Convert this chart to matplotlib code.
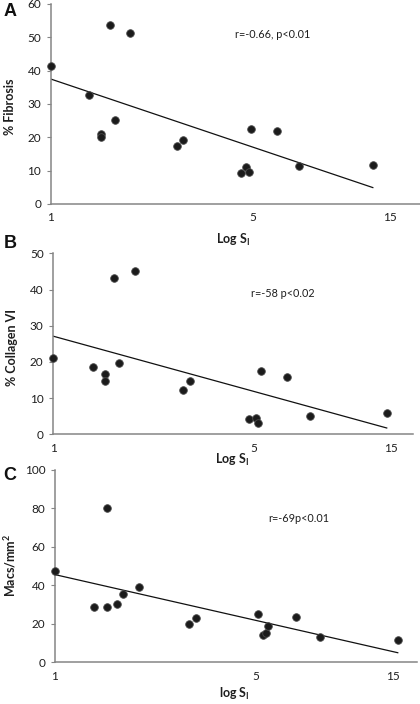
import numpy as np
import matplotlib
matplotlib.use("Agg")
import matplotlib.pyplot as plt

plt.rcParams['font.family'] = ['Lato', 'DejaVu Sans']
plt.rcParams['mathtext.fontset'] = 'custom'
plt.rcParams['mathtext.rm'] = 'Lato:bold'
plt.rcParams['mathtext.it'] = 'Lato:bold'
plt.rcParams['mathtext.bf'] = 'Lato:bold'
plt.rcParams['mathtext.default'] = 'rm'

# ---- data ----
si_a = [1.00, 1.60, 1.88, 1.355, 1.49, 1.49, 1.67, 2.74, 2.88, 4.56, 4.77, 4.87, 4.94, 6.08, 7.25, 13.1]
fibrosis = [41.3, 53.6, 51.3, 32.6, 21.0, 20.0, 25.2, 17.5, 19.1, 9.2, 11.1, 9.7, 22.5, 22.0, 11.5, 11.8]

si_b = [1.00, 1.37, 1.51, 1.51, 1.63, 1.70, 1.92, 2.83, 3.00, 4.82, 5.07, 5.18, 5.27, 6.54, 7.84, 14.5]
collagen = [21.0, 18.7, 16.6, 14.8, 43.2, 19.8, 45.1, 12.2, 14.8, 4.2, 4.5, 3.1, 17.5, 15.7, 5.1, 6.0]

si_c = [1.00, 1.37, 1.52, 1.52, 1.64, 1.72, 1.96, 2.93, 3.10, 5.07, 5.30, 5.43, 5.50, 6.89, 8.34, 15.6]
macs = [47.7, 28.8, 28.8, 80.1, 30.2, 35.7, 39.2, 20.1, 23.2, 25.0, 14.2, 15.1, 18.7, 23.7, 13.3, 11.4]

x_ticks = [1, 5, 15]
x_tick_labels = ['1', '5', '15']
ylabels = ['% Fibrosis', '% Collagen VI', 'Macs/mm$^{2}$']
xlabels = ['Log S$_{I}$', 'Log S$_{I}$', 'log S$_{I}$']
stats = ['r=-0.66, p<0.01', 'r=-58 p<0.02', 'r=-69p<0.01']
panel_letters = ['A', 'B', 'C']
ymax = [60, 50, 100]
ystep = [10, 10, 20]

W, H = 420, 704
fig = plt.figure(figsize=(W / 100, H / 100), dpi=100)

def fx(px):
    return px / W

def fy(py):
    return 1 - py / H

# layout in pixels: left, right, top, bottom
boxes = [(51, 420, 4, 204), (53.3, 413, 253.3, 434.3), (55, 417, 470, 662.3)]
xmaxes = [19.1, 17.9, 18.2]
xlabel_pos = [(233, 240), (232, 460), (234, 694)]
ylabel_pos = [(10, 107), (12, 347), (10, 565)]
stat_pos = [(235, 34), (251, 293), (268, 519)]
letter_pos = [(10, 12), (10, 243), (10, 476)]

datasets = [(si_a, fibrosis), (si_b, collagen), (si_c, macs)]
spine_col = '#858585'
text_col = '#1e1e1e'

for i, (xs, ys) in enumerate(datasets):
    l, r, t, b = boxes[i]
    ax = fig.add_axes([fx(l), fy(b), fx(r) - fx(l), fy(t) - fy(b)])
    xs = np.array(xs)
    ys = np.array(ys)
    ax.set_xscale('log')
    ax.set_xlim(1, xmaxes[i])
    ax.set_ylim(0, ymax[i])
    # trend line: least squares on log scale
    coef = np.polyfit(np.log10(xs), ys, 1)
    xt = np.array([xs.min(), xs.max()])
    ax.plot(xt, np.polyval(coef, np.log10(xt)), color='#111111', lw=0.9, zorder=2)
    ax.scatter(xs, ys, s=30, facecolor='#1b1b1b', edgecolor='#4a4a4a', linewidths=0.6,
               zorder=3, clip_on=False)
    ax.set_xticks(x_ticks)
    ax.set_xticklabels(x_tick_labels)
    ax.xaxis.set_minor_locator(matplotlib.ticker.NullLocator())
    ax.set_yticks(np.arange(0, ymax[i] + 1, ystep[i]))
    ax.tick_params(axis='x', length=0, pad=6, labelsize=8.5, labelcolor=text_col)
    ax.tick_params(axis='y', length=3, width=0.8, color=spine_col, pad=4,
                   labelsize=8.5, labelcolor=text_col)
    for s in ['top', 'right']:
        ax.spines[s].set_visible(False)
    for s in ['left', 'bottom']:
        ax.spines[s].set_color(spine_col)
        ax.spines[s].set_linewidth(1.1)
    ax.patch.set_alpha(0)

    fig.text(fx(xlabel_pos[i][0]), fy(xlabel_pos[i][1]), xlabels[i], ha='center', va='center',
             fontsize=9, fontweight='bold', color=text_col)
    fig.text(fx(ylabel_pos[i][0]), fy(ylabel_pos[i][1]), ylabels[i], ha='center', va='center',
             rotation=90, fontsize=9, fontweight='bold', color=text_col)
    fig.text(fx(stat_pos[i][0]), fy(stat_pos[i][1]), stats[i], ha='left', va='center',
             fontsize=7.8, color=text_col)
    fig.text(fx(letter_pos[i][0]), fy(letter_pos[i][1]), panel_letters[i], ha='center', va='center',
             fontsize=13, fontweight='bold', family='Liberation Sans', color='#111111')

fig.savefig('out.png', dpi=100)
